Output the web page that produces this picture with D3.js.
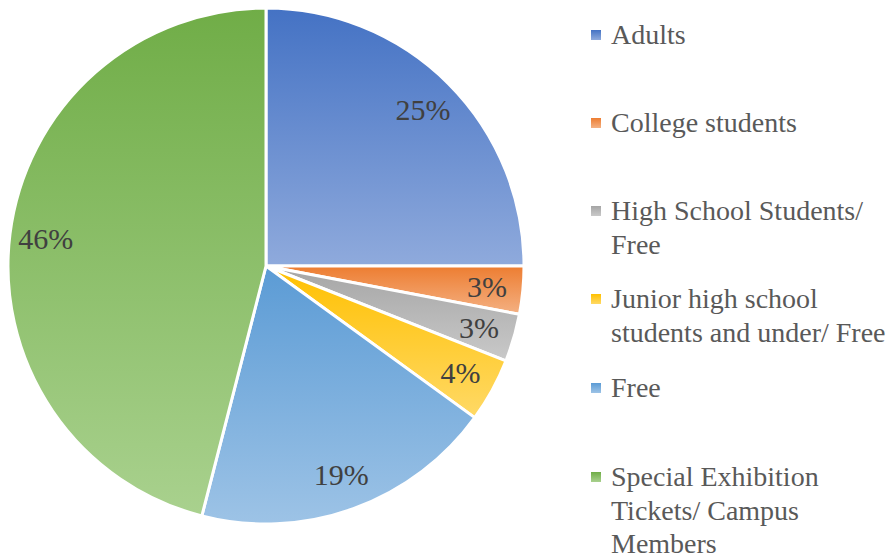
<!DOCTYPE html>
<html><head><meta charset="utf-8">
<script src="https://cdn.jsdelivr.net/npm/d3@7"></script>
<style>html,body{margin:0;padding:0;background:#fff;font-family:"Liberation Serif",Tinos,"Times New Roman",Times,serif;}svg{display:block;}
svg text, svg tspan{font-family:"Liberation Serif",Tinos,"Times New Roman",Times,serif !important;}</style>
</head><body>
<svg id="chart" width="896" height="558" font-family="Liberation Serif, Tinos, Times New Roman, serif"></svg>
<script>
const categories = ["Adults","College students","High School Students/ Free","Junior high school students and under/ Free","Free","Special Exhibition Tickets/ Campus Members"];
const legendLines = [["Adults"],["College students"],["High School Students/","Free"],["Junior high school","students and under/ Free"],["Free"],["Special Exhibition","Tickets/ Campus","Members"]];
const values = [25, 3, 3, 4, 19, 46];
const colorsTop = ["#4472C4","#ED7D31","#A5A5A5","#FFC000","#5B9BD5","#70AD47"];
const colorsBottom = ["#8FAADC","#F4B183","#C9C9C9","#FFD966","#9DC3E6","#A9D18E"];
const legendBaselines = [44,132,220,308,397,486];
const FONT = '"Liberation Serif", Tinos, "Times New Roman", Times, serif';

const svg = d3.select("#chart");
const defs = svg.append("defs");
categories.forEach((c,i)=>{
  const g = defs.append("linearGradient").attr("id","g"+i).attr("x1",0).attr("y1",0).attr("x2",0).attr("y2",1);
  g.append("stop").attr("offset","0%").attr("stop-color",colorsTop[i]);
  g.append("stop").attr("offset","100%").attr("stop-color",colorsBottom[i]);
});

const cx = 266, cy = 266, r = 258;
const pie = d3.pie().sort(null).value(d=>d);
const arcs = pie(values);
const arc = d3.arc().innerRadius(0).outerRadius(r);
const labelArc = d3.arc().innerRadius(r*0.86).outerRadius(r*0.86);
const g = svg.append("g").attr("transform",`translate(${cx},${cy})`);
g.selectAll("path").data(arcs).enter().append("path")
  .attr("d",arc).attr("fill",(d,i)=>`url(#g${i})`)
  .attr("stroke","#fff").attr("stroke-width",3).attr("stroke-linejoin","round");
g.selectAll("text").data(arcs).enter().append("text")
  .attr("transform",d=>`translate(${labelArc.centroid(d)})`)
  .attr("text-anchor","middle").attr("dy","0.35em")
  .style("font-family",FONT).style("font-size","30px").attr("fill","#404040")
  .text(d=>d.data+"%");

const lg = svg.append("g");
legendLines.forEach((lines,i)=>{
  const y = legendBaselines[i];
  lg.append("rect").attr("x",591).attr("y",y-14).attr("width",10).attr("height",10).attr("fill",`url(#g${i})`);
  const t = lg.append("text").attr("x",611).attr("y",y)
    .style("font-family",FONT).style("font-size","28px").attr("fill","#595959");
  lines.forEach((l,j)=>{
    t.append("tspan").attr("x",611).attr("y",y+j*33.5).text(l);
  });
});
</script>
</body></html>
